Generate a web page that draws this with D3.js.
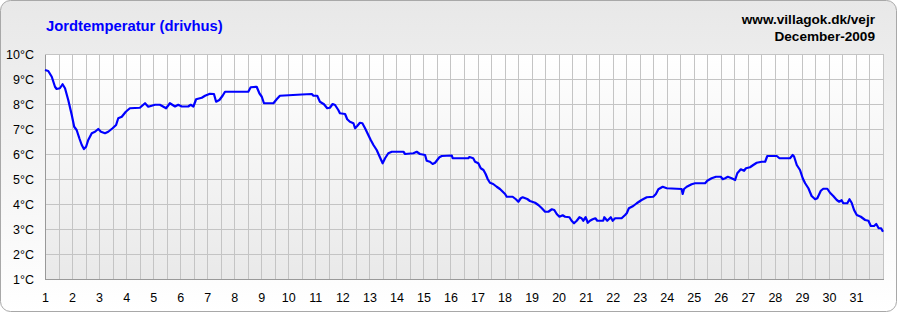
<!DOCTYPE html>
<html>
<head>
<meta charset="utf-8">
<script src="https://cdn.jsdelivr.net/npm/d3@7"></script>
<style>
  body { margin: 0; background: #fff; }
  text { font-family: "Liberation Sans", Arial, sans-serif; }
</style>
</head>
<body>
<div id="chart-area"></div>
<script>
// data: day of month (fractional) and soil temperature in °C
const days = [
  1.00, 1.12, 1.25, 1.37, 1.43, 1.55, 1.65, 1.74, 1.86, 1.99,
  2.08, 2.17, 2.27, 2.36, 2.44, 2.52, 2.60, 2.73, 2.85, 2.97,
  3.07, 3.22, 3.34, 3.50, 3.63, 3.71, 3.84, 3.99, 4.14, 4.51,
  4.70, 4.82, 5.07, 5.25, 5.48, 5.62, 5.81, 5.93, 6.06, 6.30,
  6.39, 6.49, 6.59, 6.80, 6.92, 7.10, 7.25, 7.33, 7.45, 7.57,
  7.66, 8.52, 8.61, 8.83, 8.93, 9.02, 9.10, 9.45, 9.57, 9.69,
  10.50, 10.87, 10.93, 11.07, 11.17, 11.32, 11.44, 11.54, 11.64, 11.73,
  11.85, 11.91, 12.10, 12.18, 12.28, 12.41, 12.47, 12.55, 12.65, 12.74,
  12.84, 12.96, 13.05, 13.15, 13.27, 13.39, 13.49, 13.58, 13.70, 13.83,
  14.26, 14.32, 14.63, 14.75, 14.87, 15.06, 15.12, 15.24, 15.34, 15.43,
  15.59, 15.68, 16.05, 16.08, 16.66, 16.70, 16.84, 16.91, 17.03, 17.12,
  17.22, 17.30, 17.38, 17.46, 17.58, 17.71, 17.83, 18.02, 18.08, 18.30,
  18.42, 18.51, 18.60, 18.67, 18.84, 18.94, 19.13, 19.25, 19.38, 19.50,
  19.62, 19.75, 19.84, 19.93, 20.03, 20.15, 20.24, 20.40, 20.48, 20.57,
  20.67, 20.77, 20.85, 20.91, 21.00, 21.08, 21.16, 21.26, 21.36, 21.43,
  21.65, 21.69, 21.80, 21.93, 22.00, 22.09, 22.33, 22.46, 22.52, 22.60,
  22.76, 22.89, 23.07, 23.26, 23.50, 23.60, 23.69, 23.85, 24.00, 24.55,
  24.59, 24.64, 24.74, 24.92, 25.05, 25.42, 25.50, 25.66, 25.82, 26.00,
  26.07, 26.16, 26.26, 26.40, 26.53, 26.61, 26.74, 26.86, 26.93, 27.08,
  27.20, 27.33, 27.51, 27.64, 27.72, 28.07, 28.17, 28.56, 28.66, 28.71,
  28.81, 28.93, 29.03, 29.12, 29.24, 29.36, 29.49, 29.57, 29.70, 29.79,
  29.94, 30.04, 30.16, 30.29, 30.38, 30.47, 30.53, 30.68, 30.76, 30.84,
  30.93, 31.03, 31.18, 31.34, 31.46, 31.55, 31.67, 31.75, 31.84, 31.93,
  32.00
]
const temps = [
  9.36, 9.32, 9.09, 8.69, 8.60, 8.63, 8.79, 8.63, 8.16, 7.56,
  7.09, 6.96, 6.63, 6.36, 6.20, 6.29, 6.56, 6.83, 6.89, 7.00,
  6.89, 6.83, 6.89, 7.03, 7.16, 7.43, 7.49, 7.69, 7.83, 7.85,
  8.03, 7.89, 7.97, 7.97, 7.83, 8.03, 7.90, 7.97, 7.90, 7.90,
  7.97, 7.90, 8.19, 8.25, 8.33, 8.41, 8.40, 8.09, 8.16, 8.33,
  8.49, 8.49, 8.67, 8.69, 8.43, 8.29, 8.03, 8.03, 8.19, 8.33,
  8.38, 8.40, 8.33, 8.33, 8.09, 7.99, 7.83, 7.85, 8.00, 7.96,
  7.76, 7.63, 7.60, 7.39, 7.29, 7.23, 7.03, 7.12, 7.25, 7.23,
  7.03, 6.76, 6.56, 6.36, 6.16, 5.87, 5.63, 5.83, 6.03, 6.09,
  6.09, 6.00, 6.03, 6.09, 6.00, 5.96, 5.73, 5.69, 5.60, 5.65,
  5.87, 5.92, 5.94, 5.83, 5.83, 5.88, 5.83, 5.69, 5.63, 5.43,
  5.36, 5.20, 4.99, 4.85, 4.80, 4.69, 4.60, 4.40, 4.29, 4.29,
  4.19, 4.09, 4.23, 4.27, 4.20, 4.12, 4.05, 3.96, 3.83, 3.69,
  3.69, 3.79, 3.76, 3.60, 3.49, 3.55, 3.49, 3.47, 3.33, 3.23,
  3.33, 3.47, 3.43, 3.33, 3.47, 3.25, 3.33, 3.39, 3.43, 3.33,
  3.33, 3.47, 3.33, 3.47, 3.33, 3.43, 3.43, 3.56, 3.63, 3.83,
  3.92, 4.03, 4.16, 4.27, 4.29, 4.40, 4.59, 4.69, 4.63, 4.60,
  4.40, 4.60, 4.69, 4.79, 4.83, 4.83, 4.93, 5.03, 5.09, 5.09,
  4.99, 5.03, 5.09, 5.03, 4.96, 5.23, 5.39, 5.33, 5.43, 5.47,
  5.56, 5.65, 5.69, 5.69, 5.92, 5.92, 5.83, 5.83, 5.96, 5.90,
  5.56, 5.36, 5.03, 4.83, 4.63, 4.32, 4.19, 4.23, 4.53, 4.61,
  4.61, 4.45, 4.32, 4.16, 4.09, 4.15, 4.03, 4.03, 4.19, 4.05,
  3.76, 3.56, 3.49, 3.36, 3.33, 3.12, 3.12, 3.20, 3.03, 3.03,
  2.89
]
const yTicks = [1, 2, 3, 4, 5, 6, 7, 8, 9, 10]
const xTicks = d3.range(1, 32)
const TITLE = "Jordtemperatur (drivhus)"
const SITE = "www.villagok.dk/vejr"
const PERIOD = "December-2009"

const W = 897
const H = 312
const MARGIN = { LEFT: 45, RIGHT: 14, TOP: 54, BOTTOM: 33 }
const WIDTH = W - MARGIN.LEFT - MARGIN.RIGHT
const HEIGHT = H - MARGIN.TOP - MARGIN.BOTTOM

const svg = d3.select("#chart-area").append("svg")
  .attr("width", W)
  .attr("height", H)

const defs = svg.append("defs")
const bgGrad = defs.append("linearGradient")
  .attr("id", "bgGrad").attr("x1", 0).attr("y1", 0).attr("x2", 0).attr("y2", 1)
bgGrad.append("stop").attr("offset", "0%").attr("stop-color", "#e8e8e8")
bgGrad.append("stop").attr("offset", "100%").attr("stop-color", "#ffffff")
const plotGrad = defs.append("linearGradient")
  .attr("id", "plotGrad").attr("x1", 0).attr("y1", 0).attr("x2", 0).attr("y2", 1)
plotGrad.append("stop").attr("offset", "0%").attr("stop-color", "#ffffff")
plotGrad.append("stop").attr("offset", "100%").attr("stop-color", "#e9e9e9")

// outer panel
svg.append("rect")
  .attr("x", 0.5).attr("y", 0.5)
  .attr("width", W - 1).attr("height", H - 1)
  .attr("rx", 10).attr("ry", 10)
  .attr("fill", "url(#bgGrad)")
  .attr("stroke", "#a8a8a8")

const g = svg.append("g")
  .attr("transform", `translate(${MARGIN.LEFT}, ${MARGIN.TOP})`)

// scales
const x = d3.scaleLinear().domain([1, 32]).range([0, WIDTH])
const y = d3.scaleLinear().domain([1, 10]).range([HEIGHT, 0])

g.append("rect")
  .attr("width", WIDTH).attr("height", HEIGHT)
  .attr("fill", "url(#plotGrad)")

// grid: vertical every half day, horizontal every degree
const xGrid = d3.axisBottom(x)
  .tickValues(d3.range(1, 32.01, 0.5))
  .tickSize(-HEIGHT).tickFormat("")
const yGrid = d3.axisLeft(y)
  .tickValues(yTicks)
  .tickSize(-WIDTH).tickFormat("")

g.append("g").attr("class", "grid")
  .attr("transform", `translate(0, ${HEIGHT})`)
  .call(xGrid)
g.append("g").attr("class", "grid")
  .call(yGrid)
g.selectAll(".grid .domain").remove()
g.selectAll(".grid line")
  .attr("stroke", "#c4c4c4")
  .attr("shape-rendering", "crispEdges")

// axes
const xAxisCall = d3.axisBottom(x)
  .tickValues(xTicks)
  .tickSize(0).tickPadding(14)
  .tickFormat(d => d)
const yAxisCall = d3.axisLeft(y)
  .tickValues(yTicks)
  .tickSize(0).tickPadding(11)
  .tickFormat(d => `${d}°C`)

const xAxis = g.append("g")
  .attr("transform", `translate(0, ${HEIGHT})`)
  .call(xAxisCall)
const yAxis = g.append("g")
  .call(yAxisCall)

;[xAxis, yAxis].forEach(a => {
  a.select(".domain")
    .attr("stroke", "#999")
    .attr("shape-rendering", "crispEdges")
  a.selectAll("text")
    .attr("font-size", "12.5px")
    .attr("fill", "#000")
    .style("font-family", "'Liberation Sans', Arial, sans-serif")
})

// temperature line
const line = d3.line()
  .x((d, i) => x(days[i]))
  .y(d => y(d))

g.append("path")
  .datum(temps)
  .attr("fill", "none")
  .attr("stroke", "#0000ff")
  .attr("stroke-width", 2.2)
  .attr("stroke-linejoin", "round")
  .attr("d", line)

// titles
svg.append("text")
  .attr("x", 46).attr("y", 31)
  .attr("font-size", "14.8px")
  .attr("font-weight", "bold")
  .attr("fill", "#0000ff")
  .text(TITLE)

svg.append("text")
  .attr("x", 875).attr("y", 24)
  .attr("text-anchor", "end")
  .attr("font-size", "13.6px")
  .attr("font-weight", "bold")
  .attr("fill", "#000")
  .text(SITE)

svg.append("text")
  .attr("x", 875).attr("y", 41)
  .attr("text-anchor", "end")
  .attr("font-size", "13.6px")
  .attr("font-weight", "bold")
  .attr("fill", "#000")
  .text(PERIOD)
</script>
</body>
</html>
